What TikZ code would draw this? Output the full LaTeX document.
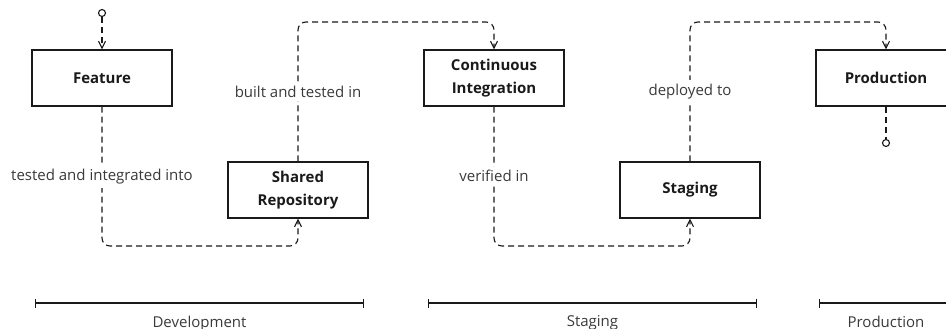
\documentclass[tikz,border=0pt]{standalone}
\usepackage{fontspec}
\setmainfont{Open Sans}
\usetikzlibrary{arrows.meta,calc}
\definecolor{ink}{HTML}{1A1A1A}
\definecolor{lblgray}{HTML}{3A3A3A}
\tikzset{
  box/.style={draw=ink, line width=1.1pt, minimum width=140pt, minimum height=56pt, inner sep=0pt, align=center, font=\fontsize{15}{22.5}\selectfont\bfseries, text=ink},
  flow/.style={draw=ink, line width=1.1pt, dash pattern=on 6pt off 4pt, rounded corners=8pt},
  arr/.style={-{Straight Barb[length=7pt,width=7pt,line width=1.1pt]}},
  lbl/.style={fill=white, inner sep=4pt, text=lblgray, font=\fontsize{15}{18}\selectfont},
  endpt/.style={circle, draw=ink, line width=1.1pt, minimum size=7pt, inner sep=0pt, fill=white},
  span/.style={draw=ink, line width=1.1pt, {Bar[width=9pt,line width=1.1pt]}-{Bar[width=9pt,line width=1.1pt]}},
  spanlbl/.style={text=lblgray, font=\fontsize{15}{18}\selectfont}
}
\begin{document}
\begin{tikzpicture}[x=1pt,y=-1pt]
\useasboundingbox (0,0) rectangle (946,329);
% boxes
\node[box] (feat) at (102,78) {Feature};
\node[box] (repo) at (298,190) {Shared\\Repository};
\node[box] (ci) at (494,78) {Continuous\\Integration};
\node[box] (stag) at (690,190) {Staging};
\node[box] (prod) at (886,78) {Production};
% endpoints
\node[endpt] (start) at (102,13) {};
\node[endpt] (stop) at (886,143) {};
\coordinate (low) at (0,246);
\coordinate (high) at (0,22);
% connectors
\draw[flow,arr,rounded corners=0pt] (start) -- (feat);
\draw[flow,arr] (feat.south) -- node[lbl]{tested and integrated into} (feat.south |- low) -- (repo.south |- low) -- (repo.south);
\draw[flow,arr] (repo.north) -- node[lbl]{built and tested in} (repo.north |- high) -- (ci.north |- high) -- (ci.north);
\draw[flow,arr] (ci.south) -- node[lbl]{verified in} (ci.south |- low) -- (stag.south |- low) -- (stag.south);
\draw[flow,arr] (stag.north) -- node[lbl]{deployed to} (stag.north |- high) -- (prod.north |- high) -- (prod.north);
\draw[flow,rounded corners=0pt] (prod) -- (stop);
% phase spans
\coordinate (d1) at (35,303);
\coordinate (d2) at (364,303);
\coordinate (s1) at (428,303);
\coordinate (s2) at (757,303);
\coordinate (p1) at (819,303);
\coordinate (p2) at (953,303);
\draw[span] (d1) -- node[spanlbl, below=9pt]{Development} (d2);
\draw[span] (s1) -- node[spanlbl, below=9pt]{Staging} (s2);
\draw[span] (p1) -- node[spanlbl, below=9pt]{Production} (p2);
\end{tikzpicture}
\end{document}
